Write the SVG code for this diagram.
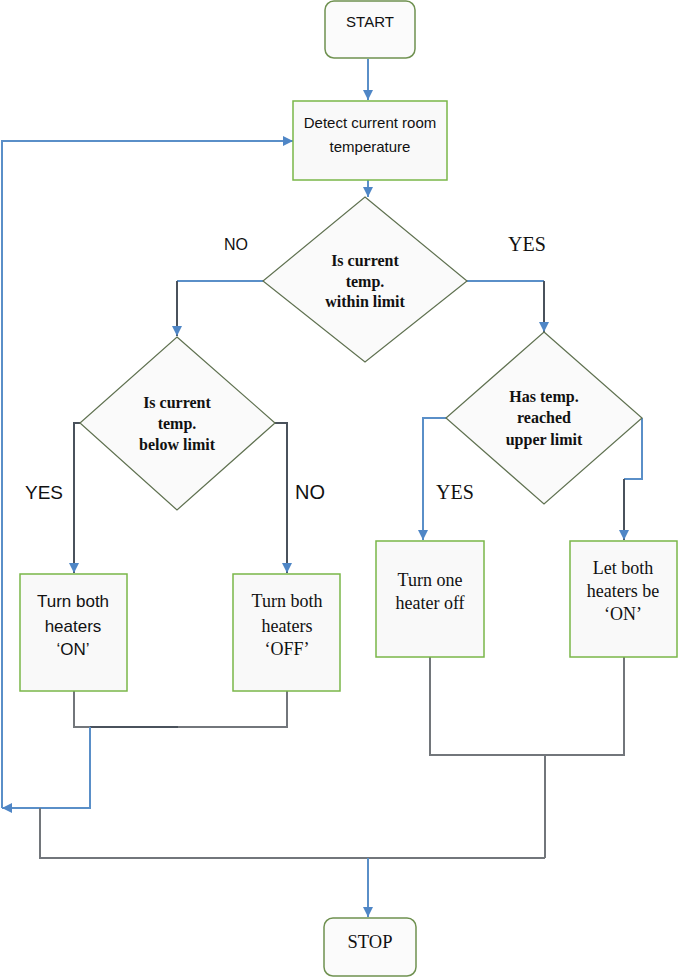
<svg xmlns="http://www.w3.org/2000/svg" width="679" height="978" viewBox="0 0 679 978">
<style>
.term{fill:#fbfbfb;stroke:#6f9150;stroke-width:1.5}
.box{fill:#f9f9f9;stroke:#7ab648;stroke-width:1.5}
.dia{fill:#fafafa;stroke:#5f7150;stroke-width:1.2}
.sans{font-family:"Liberation Sans",Arial,sans-serif;fill:#111;text-anchor:middle}
.serif{font-family:"Liberation Serif","Times New Roman",serif;fill:#111;text-anchor:middle}
.bold{font-weight:bold}
.blue{fill:none;stroke:#5a8fc8;stroke-width:2}
.dark{fill:none;stroke:#4a525c;stroke-width:2}
.grey{fill:none;stroke:#72767b;stroke-width:2}
</style>
<defs>
<marker id="ah" viewBox="0 0 10 10" refX="10" refY="5" markerWidth="10" markerHeight="10" markerUnits="userSpaceOnUse" orient="auto">
<path d="M0,0 L10,5 L0,10 z" fill="#4f86c6"/>
</marker>
</defs>
<g id="connectors">
<path class="blue" d="M368,59 V100" marker-end="url(#ah)"/>
<path class="blue" d="M368,180 V197" marker-end="url(#ah)"/>
<path class="blue" d="M263,281 H177"/>
<path class="dark" d="M177,281 V336" marker-end="url(#ah)"/>
<path class="blue" d="M467,281 H544"/>
<path class="dark" d="M544,281 V332" marker-end="url(#ah)"/>
<path class="dark" d="M80,423 H74 V573" marker-end="url(#ah)"/>
<path class="dark" d="M275,423 H287 V573" marker-end="url(#ah)"/>
<path class="blue" d="M446,418 H423 V540" marker-end="url(#ah)"/>
<path class="blue" d="M642,418 V479 H624"/>
<path class="dark" d="M624,479 V540" marker-end="url(#ah)"/>
<path class="grey" d="M74,691 V727 H287 V691"/>
<path class="dark" d="M90,727 H178"/>
<path class="blue" d="M90,727 V808 H2" marker-end="url(#ah)"/>
<path class="blue" d="M2,808 V141 H293" marker-end="url(#ah)"/>
<path class="grey" d="M430,657 V755 H624 V657"/>
<path class="grey" d="M545,755 V858"/>
<path class="grey" d="M40,808 V858 H545"/>
<path class="blue" d="M368,858 V917" marker-end="url(#ah)"/>
</g>
<g id="start">
<rect class="term" x="325" y="1" width="90" height="57" rx="9"/>
<text class="sans" x="370" y="27" font-size="15">START</text>
</g>
<g id="detect">
<rect class="box" x="293" y="101" width="154" height="79"/>
<text class="sans" x="370" y="128" font-size="15">Detect current room</text>
<text class="sans" x="370" y="152" font-size="15">temperature</text>
</g>
<g id="within">
<polygon class="dia" points="365,197 467,281 365,362 263,281"/>
<text class="serif bold" x="365" y="266" font-size="16">Is current</text>
<text class="serif bold" x="365" y="287" font-size="16">temp.</text>
<text class="serif bold" x="365" y="307" font-size="16">within limit</text>
</g>
<g id="below">
<polygon class="dia" points="177,337 275,423 177,510 80,423"/>
<text class="serif bold" x="177" y="408" font-size="16">Is current</text>
<text class="serif bold" x="177" y="429" font-size="16">temp.</text>
<text class="serif bold" x="177" y="450" font-size="16">below limit</text>
</g>
<g id="upper">
<polygon class="dia" points="544,332 642,418 544,504 446,418"/>
<text class="serif bold" x="544" y="402" font-size="16">Has temp.</text>
<text class="serif bold" x="544" y="423" font-size="16">reached</text>
<text class="serif bold" x="544" y="445" font-size="16">upper limit</text>
</g>
<g id="bothon">
<rect class="box" x="20" y="574" width="107" height="117"/>
<text class="sans" x="73" y="607" font-size="17">Turn both</text>
<text class="sans" x="73" y="632" font-size="17">heaters</text>
<text class="sans" x="73" y="655" font-size="17">‘ON’</text>
</g>
<g id="bothoff">
<rect class="box" x="233" y="574" width="107" height="117"/>
<text class="serif" x="287" y="607" font-size="18">Turn both</text>
<text class="serif" x="287" y="632" font-size="18">heaters</text>
<text class="serif" x="287" y="655" font-size="18">‘OFF’</text>
</g>
<g id="oneoff">
<rect class="box" x="376" y="541" width="108" height="116"/>
<text class="serif" x="430" y="586" font-size="18">Turn one</text>
<text class="serif" x="430" y="609" font-size="18">heater off</text>
</g>
<g id="letboth">
<rect class="box" x="570" y="541" width="107" height="116"/>
<text class="serif" x="623" y="574" font-size="18">Let both</text>
<text class="serif" x="623" y="597" font-size="18">heaters be</text>
<text class="serif" x="623" y="620" font-size="18">‘ON’</text>
</g>
<g id="stop">
<rect class="term" x="324" y="918" width="92" height="58" rx="9"/>
<text class="serif" x="370" y="948" font-size="18.5">STOP</text>
</g>
<g id="labels">
<text class="sans" x="236" y="250" font-size="16">NO</text>
<text class="serif" x="527" y="251" font-size="20">YES</text>
<text class="sans" x="44" y="499" font-size="19">YES</text>
<text class="sans" x="310" y="499" font-size="20">NO</text>
<text class="serif" x="455" y="499" font-size="20">YES</text>
</g>
</svg>
